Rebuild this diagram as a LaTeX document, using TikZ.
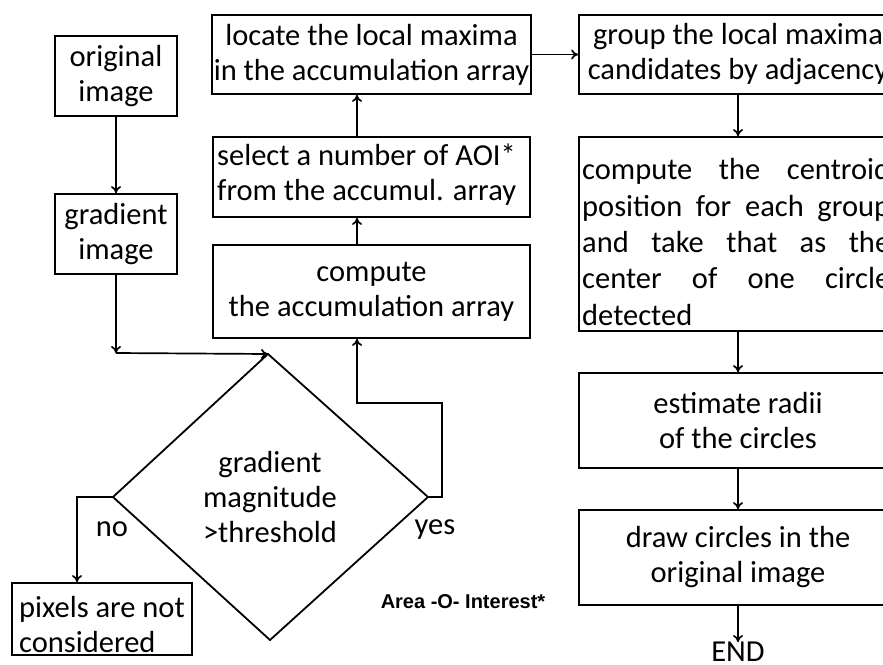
\documentclass[tikz,border=0pt]{standalone}
\usepackage{fontspec}
\setmainfont{Carlito}
\newfontfamily\aoifont{Liberation Sans}
\usetikzlibrary{arrows.meta}
\begin{document}
\begin{tikzpicture}[x=1pt,y=-1pt,
  box/.style={draw,line width=1.8pt,inner sep=2pt,font=\fontsize{30.5}{35}\selectfont,align=center},
  arr/.style={line width=1.7pt,-{To[length=7pt,width=10pt]}},
  lab/.style={font=\fontsize{30.5}{35}\selectfont,inner sep=0pt}]
\useasboundingbox (0,0) rectangle (883,664);
\fill[white] (0,0) rectangle (883,664);
\clip (0,0) rectangle (883,664);
% left column
\node[box,minimum width=122pt,minimum height=80pt] (orig) at (116,76) {original\\image};
\node[box,minimum width=122pt,minimum height=80pt] (grad) at (116,234) {gradient\\image};
% middle column
\node[box,minimum width=317pt,minimum height=79pt] (locate) at (371.5,54.5) {locate the local maxima\\in the accumulation array};
\node[box,minimum width=317pt,minimum height=80pt] (select) at (371.5,177) {};
\node[lab,align=left,anchor=west] (seltext) at (217,175) {select a number of AOI*\\from the accumul. array};
\node[box,minimum width=317pt,minimum height=93pt] (compute) at (371.5,291.5) {compute\\the accumulation array};
% right column
\node[box,minimum width=318pt,minimum height=79pt] (group) at (738,54.5) {group the local maxima\\candidates by adjacency};
\node[box,minimum width=318pt,minimum height=194pt] (cent) at (738,234) {};
\node[inner sep=0pt,align=left,font=\fontsize{30.5}{36.3}\selectfont,anchor=west] (centtext) at (582,242)
  {\makebox[308pt][s]{compute the centroid}\\\makebox[308pt][s]{position for each group}\\\makebox[308pt][s]{and take that as the}\\\makebox[308pt][s]{center of one circle}\\detected};
\node[box,minimum width=318pt,minimum height=95pt] (est) at (738,420.5) {estimate radii\\of the circles};
\node[box,minimum width=318pt,minimum height=95pt] (drawc) at (738,557.5) {draw circles in the\\original image};
\node[lab] (endn) at (738,652) {END};
% decision
\coordinate (dt) at (268,354);
\coordinate (db) at (270,640);
\coordinate (dl) at (113,497);
\coordinate (dr) at (428,497);
\draw[line width=1.8pt,line join=miter] (dt) -- (dr) -- (db) -- (dl) -- cycle;
\node[lab,align=center] (dtext) at (270,497) {gradient\\magnitude\\>threshold};
\node[box,minimum width=180pt,minimum height=72pt] (pix) at (102,619) {};
\node[lab,align=left] (pixtext) at (102,625) {pixels are not\\considered};
% labels
\node[lab] (no) at (112,529) {no};
\node[lab] (yes) at (435,530) {yes};
\node[inner sep=0pt,font=\aoifont\bfseries\fontsize{20}{23}\selectfont] (aoi) at (463,602) {Area -O- Interest*};
% connectors
\coordinate (c1) at (116,353);
\coordinate (r1) at (442,403);
\coordinate (r2) at (357,403);
\coordinate (l1) at (77,497);
\draw[arr] (orig) -- (grad);
\draw[arr] (grad.south) -- (c1);
\draw[arr] (c1) -- (dt);
\draw[arr] (dr) -| (r1) -- (r2) -- (compute.south -| r2);
\draw[arr] (dl) -- (l1) -- (pix.north -| l1);
\draw[arr] (compute.north -| r2) -- (select.south -| r2);
\draw[arr] (select.north -| r2) -- (locate.south -| r2);
\draw[arr] (locate.east) -- (group.west);
\draw[arr] (group) -- (cent);
\draw[arr] (cent) -- (est);
\draw[arr] (est) -- (drawc);
\draw[arr] (drawc) -- (endn);
\end{tikzpicture}
\end{document}
